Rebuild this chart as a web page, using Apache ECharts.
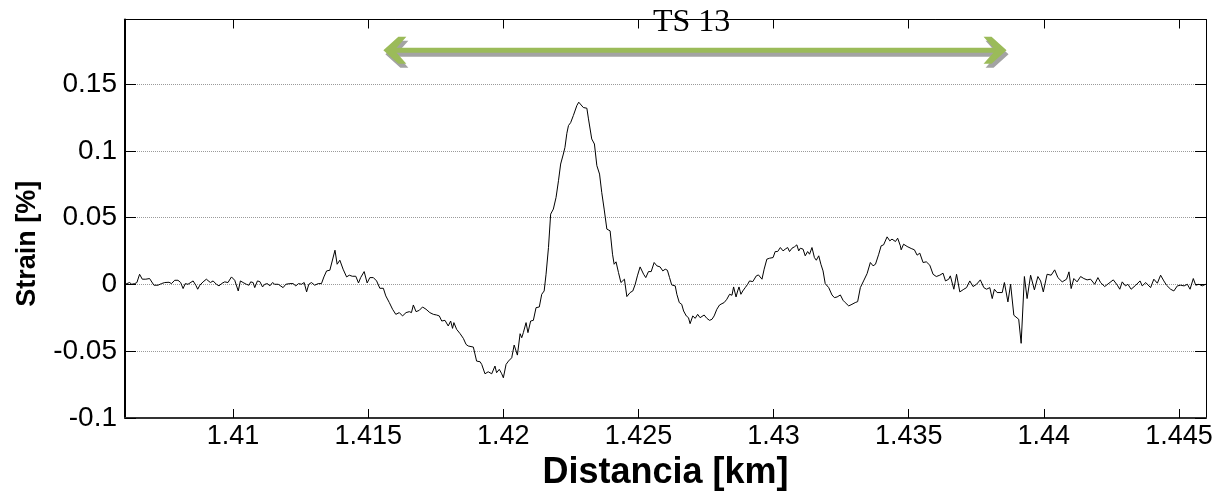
<!DOCTYPE html>
<html>
<head>
<meta charset="utf-8">
<script src="https://cdn.jsdelivr.net/npm/echarts@6/dist/echarts.min.js"></script>
<style>
html,body{margin:0;padding:0;background:#fff;overflow:hidden;}
#c{width:1228px;height:497px;}
</style>
</head>
<body>
<div id="c"></div>
<script>
// distance [km]
const distance = [
1.40599,1.40607,1.40617,1.40625,1.40636,1.40644,1.40654,1.40664,1.40677,1.40691,1.40698,1.40707,1.40722,1.40735,1.40747,1.40753,1.40763,1.40772,1.40784,1.40796,
1.40806,1.40815,1.40823,1.40833,1.40840,1.40852,1.40862,1.40869,1.40877,1.40889,1.40901,1.40907,1.40916,1.40926,1.40938,1.40948,1.40957,1.40969,1.40981,1.40994,
1.41006,1.41019,1.41027,1.41037,1.41049,1.41059,1.41065,1.41074,1.41080,1.41090,1.41099,1.41109,1.41117,1.41127,1.41136,1.41146,1.41154,1.41167,1.41173,1.41185,
1.41195,1.41201,1.41210,1.41222,1.41232,1.41242,1.41253,1.41263,1.41272,1.41280,1.41290,1.41302,1.41315,1.41327,1.41336,1.41346,1.41358,
1.41364,1.41377,1.41385,1.41395,1.41407,1.41420,1.41430,1.41441,1.41454,1.41464,1.41472,1.41485,1.41496,1.41506,1.41519,1.41531,1.41543,1.41556,1.41565,1.41578,
1.41590,1.41602,1.41615,1.41627,1.41640,1.41652,1.41660,1.41667,1.41677,1.41689,1.41701,1.41714,1.41728,1.41741,1.41753,1.41763,1.41772,1.41784,1.41796,1.41805,
1.41812,1.41817,1.41827,1.41840,1.41852,1.41862,1.41870,1.41889,1.41901,1.41914,1.41920,1.41932,1.41944,1.41957,1.41969,1.41975,1.41985,1.41994,1.42000,1.42010,
1.42019,1.42031,1.42040,1.42052,1.42062,
1.42068,1.42074,1.42084,1.42091,1.42101,1.42111,1.42121,1.42133,1.42142,1.42151,1.42158,1.42167,1.42175,1.42185,1.42195,1.42204,1.42212,1.42222,1.42228,1.42235,
1.42241,1.42249,1.42259,1.42272,1.42279,1.42286,1.42296,1.42309,1.42315,1.42327,1.42337,1.42346,1.42356,1.42364,1.42373,1.42383,1.42395,1.42404,1.42410,1.42417,
1.42426,1.42435,1.42442,1.42448,1.42457,1.42469,1.42479,1.42488,1.42496,1.42506,1.42519,1.42527,1.42537,1.42547,1.42558,1.42568,1.42580,1.42590,1.42599,1.42607,
1.42615,1.42623,1.42636,1.42642,1.42651,1.42660,1.42667,1.42677,1.42685,1.42691,1.42701,1.42710,1.42719,1.42728,1.42735,1.42743,1.42753,1.42763,1.42772,1.42780,
1.42790,1.42800,1.42809,1.42817,1.42827,1.42837,1.42846,1.42852,1.42861,1.42867,1.42872,1.42879,1.42886,1.42895,1.42904,1.42911,1.42923,1.42936,1.42944,1.42957,
1.42965,1.42975,1.42985,1.42998,1.43006,1.43015,1.43025,1.43035,1.43043,1.43052,1.43059,1.43068,1.43077,1.43086,1.43093,1.43099,1.43109,1.43117,1.43126,1.43133,
1.43142,1.43151,1.43158,1.43167,1.43175,1.43183,1.43191,1.43204,1.43216,1.43225,1.43235,1.43247,1.43257,1.43265,1.43272,1.43278,1.43290,1.43302,1.43311,1.43321,
1.43333,1.43346,1.43358,1.43368,1.43377,1.43389,1.43398,1.43407,1.43420,1.43430,1.43438,1.43451,1.43459,1.43469,
1.43472,1.43481,1.43494,1.43509,1.43521,1.43531,1.43541,1.43553,1.43565,1.43578,1.43590,1.43602,1.43615,1.43627,1.43636,1.43648,1.43654,1.43667,1.43677,1.43689,
1.43704,1.43714,1.43726,1.43738,1.43751,1.43765,1.43778,1.43788,1.43800,1.43809,1.43817,1.43827,1.43846,1.43854,1.43867,1.43877,1.43889,1.43907,1.43916,1.43928,
1.43938,1.43951,1.43965,1.43978,1.43988,1.43998,1.44012,1.44027,1.44040,1.44052,1.44068,1.44084,1.44093,1.44101,1.44111,1.44123,1.44136,1.44148,1.44160,1.44173,
1.44188,1.44200,1.44210,1.44225,1.44241,1.44257,1.44272,1.44281,1.44290,1.44302,1.44311,1.44323,1.44340,1.44356,1.44364,1.44377,1.44395,1.44407,1.44420,1.44432,
1.44444,1.44454,1.44469,1.44481,1.44494,1.44506,1.44519,1.44531,1.44541,1.44553,1.44562,1.44574,1.44586,1.44599
];
// strain [%]
const strain = [
0.0001,0.0006,0.0014,0.0001,0.0006,0.0014,0.0076,0.0039,0.0039,0.0044,0.0031,-0.0006,-0.0006,0.0006,0.0014,0.0006,0.0016,0.0006,0.0031,0.0031,
0.0014,-0.0031,0.0006,0.0001,0.0014,0.0026,-0.0006,-0.0036,-0.0006,0.0019,0.0039,0.0039,0.0014,0.0026,0.0001,-0.0011,0.0006,0.0019,0.0014,0.0056,
0.0031,-0.0049,0.0026,0.0014,0.0001,-0.0006,0.0019,0.0014,-0.0024,0.0026,0.0021,-0.0019,0.0001,0.0006,-0.0011,0.0014,0.0001,0.0001,-0.0011,-0.0024,
0.0001,0.0014,0.0006,0.0006,-0.0011,0.0006,0.0001,0.0014,-0.0056,0.0001,0.0014,-0.0006,0.0006,0.0006,0.0056,0.0101,0.0106,
0.0096,0.0256,0.0151,0.0181,0.0114,0.0056,0.0069,0.0061,0.0061,0.0011,0.0051,0.0096,0.0011,0.0051,0.0051,0.0026,-0.0029,-0.0029,-0.0086,-0.0136,
-0.0186,-0.0224,-0.0211,-0.0236,-0.0211,-0.0204,-0.0211,-0.0154,-0.0204,-0.0194,-0.0169,-0.0186,-0.0211,-0.0224,-0.0229,-0.0236,-0.0274,-0.0269,-0.0311,-0.0274,
-0.0329,-0.0286,-0.0336,-0.0369,-0.0404,-0.0449,-0.0461,-0.0469,-0.0574,-0.0579,-0.0599,-0.0669,-0.0654,-0.0669,-0.0611,-0.0661,-0.0636,-0.0669,-0.0699,-0.0599,
-0.0574,-0.0549,-0.0454,-0.0529,-0.0369,
-0.0399,-0.0361,-0.0286,-0.0361,-0.0274,-0.0269,-0.0174,-0.0169,-0.0074,-0.0049,0.0076,0.0276,0.0526,0.0564,0.0651,0.0776,0.0901,0.0976,0.1026,0.1131,
0.1189,0.1211,0.1264,0.1339,0.1364,0.1369,0.1324,0.1319,0.1239,0.1089,0.1051,0.0889,0.0826,0.0689,0.0564,0.0414,0.0401,0.0226,0.0151,0.0169,
0.0089,0.0014,0.0006,0.0039,-0.0091,-0.0061,-0.0049,0.0001,0.0064,0.0131,0.0076,0.0051,0.0096,0.0096,0.0164,0.0139,0.0131,0.0101,0.0114,0.0106,
0.0051,-0.0004,-0.0011,-0.0074,-0.0136,-0.0149,-0.0199,-0.0236,-0.0249,-0.0294,-0.0236,-0.0254,-0.0224,-0.0249,-0.0236,-0.0229,-0.0254,-0.0269,-0.0261,-0.0236,
-0.0186,-0.0154,-0.0144,-0.0136,-0.0111,-0.0074,-0.0081,-0.0019,-0.0094,-0.0049,-0.0019,-0.0074,-0.0049,-0.0024,0.0001,0.0026,0.0021,0.0064,0.0071,0.0039,
0.0114,0.0189,0.0196,0.0201,0.0246,0.0246,0.0276,0.0251,0.0264,0.0276,0.0246,0.0271,0.0281,0.0296,0.0251,0.0271,0.0264,0.0214,0.0246,0.0226,
0.0276,0.0201,0.0181,0.0214,0.0151,0.0101,0.0006,-0.0024,-0.0079,-0.0099,-0.0094,-0.0079,-0.0119,-0.0136,-0.0144,-0.0161,-0.0149,-0.0136,-0.0129,-0.0024,
0.0026,0.0081,0.0164,0.0139,0.0151,0.0226,0.0289,0.0296,0.0356,0.0326,0.0339,0.0321,0.0346,0.0289,
0.0259,0.0301,0.0284,0.0269,0.0259,0.0219,0.0234,0.0164,0.0169,0.0144,0.0076,0.0059,0.0069,0.0084,0.0026,0.0039,0.0064,-0.0036,0.0076,-0.0056,
-0.0036,-0.0024,0.0026,-0.0016,0.0001,0.0034,-0.0024,-0.0036,-0.0024,-0.0106,-0.0036,-0.0061,-0.0061,0.0014,-0.0131,0.0001,-0.0231,-0.0261,-0.0441,0.0059,
-0.0106,0.0069,-0.0041,0.0059,0.0026,-0.0056,0.0076,0.0069,0.0109,0.0051,0.0019,0.0039,0.0094,-0.0031,0.0044,0.0019,0.0059,0.0044,0.0034,0.0039,
0.0001,0.0051,0.0014,-0.0016,0.0009,0.0034,-0.0006,-0.0036,0.0019,-0.0011,0.0001,-0.0036,-0.0006,0.0026,-0.0011,0.0014,-0.0024,0.0039,0.0009,0.0069,
0.0026,-0.0006,-0.0036,-0.0049,-0.0011,-0.0006,-0.0011,0.0001,-0.0036,0.0044,-0.0006,0.0001,-0.0011,0.0001
];
const yTicks = [-0.1, -0.05, 0, 0.05, 0.1, 0.15];
const xTicks = [1.41, 1.415, 1.42, 1.425, 1.43, 1.435, 1.44, 1.445];
const arrowTips = [1.41556, 1.43862];   // km, ends of the TS 13 span arrow
const arrowLevel = 0.1752;              // strain level of the arrow
const titleText = 'TS 13';

const X_MIN = 1.406, X_MAX = 1.446, Y_MIN = -0.1, Y_MAX = 0.1983;
const seriesData = distance.map((d, i) => [d, strain[i]]);
const isTick = (list, v) => list.some(t => Math.abs(t - v) < 1e-9);
const sans = "'Liberation Sans', Arial, sans-serif";

function arrowShapes(a, b, color, dx, dy) {
  const y = a[1] + dy, xl = a[0] + dx, xr = b[0] + dx;
  const head = (x, s) => [[x, y], [x + s * 15, y - 13.5], [x + s * 23, y - 13.5], [x + s * 11, y], [x + s * 23, y + 13.5], [x + s * 15, y + 13.5]];
  return [
    {type: 'rect', shape: {x: xl + 8, y: y - 2.5, width: (xr - xl) - 16, height: 5}, style: {fill: color}},
    {type: 'polygon', shape: {points: head(xl, 1)}, style: {fill: color}},
    {type: 'polygon', shape: {points: head(xr, -1)}, style: {fill: color}}
  ];
}

const chart = echarts.init(document.getElementById('c'), null, {renderer: 'canvas'});
chart.setOption({
  animation: false,
  backgroundColor: '#fff',
  title: {
    text: titleText, left: 648, top: 2,
    textStyle: {fontFamily: "'Liberation Serif', 'Times New Roman', serif", fontSize: 32, fontWeight: 'normal', color: '#000'}
  },
  grid: {left: 125, right: 22, top: 19.5, bottom: 79, containLabel: false, outerBoundsMode: 'none'},
  xAxis: [{
    type: 'value', min: X_MIN, max: X_MAX, splitNumber: 8, position: 'bottom',
    axisLine: {show: true, onZero: false, lineStyle: {color: '#333', width: 2}},
    axisTick: {show: true, inside: true, length: 9, lineStyle: {color: '#000', width: 1}},
    splitLine: {show: false},
    axisLabel: {
      margin: 5, color: '#000', fontFamily: sans, fontSize: 27,
      showMinLabel: false, showMaxLabel: false,
      formatter: v => isTick(xTicks, v) ? String(+v.toFixed(4)) : ''
    },
    name: 'Distancia [km]', nameLocation: 'middle', nameGap: 30,
    nameTextStyle: {fontFamily: sans, fontSize: 36, fontWeight: 'bold', color: '#000', verticalAlign: 'top'}
  }, {
    type: 'value', min: X_MIN, max: X_MAX, splitNumber: 8, position: 'top',
    axisLine: {show: true, onZero: false, lineStyle: {color: '#000', width: 1}},
    axisTick: {show: true, inside: true, length: 9, lineStyle: {color: '#000', width: 1}},
    axisLabel: {show: false}, splitLine: {show: false}
  }],
  yAxis: [{
    type: 'value', min: Y_MIN, max: Y_MAX, interval: 0.05, position: 'left',
    axisLine: {show: true, onZero: false, lineStyle: {color: '#000', width: 2}},
    axisTick: {show: true, inside: true, length: 11, lineStyle: {color: '#000', width: 1}},
    splitLine: {show: true, lineStyle: {color: '#9a9a9a', type: 'dotted', width: 1}},
    axisLabel: {
      margin: 8, color: '#000', fontFamily: sans, fontSize: 28,
      showMaxLabel: false,
      formatter: v => isTick(yTicks, v) ? String(+v.toFixed(3)) : ''
    },
    name: 'Strain [%]', nameLocation: 'middle', nameGap: 84, nameRotate: 90,
    nameTextStyle: {fontFamily: sans, fontSize: 27, fontWeight: 'bold', color: '#000', padding: [0, 50, 0, 0]}
  }, {
    type: 'value', min: Y_MIN, max: Y_MAX, interval: 0.05, position: 'right',
    axisLine: {show: true, onZero: false, lineStyle: {color: '#000', width: 1}},
    axisTick: {show: true, inside: true, length: 11, lineStyle: {color: '#000', width: 1}},
    axisLabel: {show: false}, splitLine: {show: false}
  }],
  series: [{
    type: 'line', xAxisIndex: 0, yAxisIndex: 0,
    data: seriesData, showSymbol: false, symbol: 'none', smooth: false,
    lineStyle: {color: '#000', width: 1}, z: 3
  }, {
    type: 'custom', xAxisIndex: 0, yAxisIndex: 0, z: 4, silent: true,
    data: [[arrowTips[0], arrowTips[1], arrowLevel]],
    renderItem: function (params, api) {
      const a = api.coord([api.value(0), api.value(2)]);
      const b = api.coord([api.value(1), api.value(2)]);
      return {
        type: 'group',
        children: arrowShapes(a, b, '#a3a3a3', 2, 4).concat(arrowShapes(a, b, '#9bbb59', 0, 0))
      };
    }
  }]
});
</script>
</body>
</html>
